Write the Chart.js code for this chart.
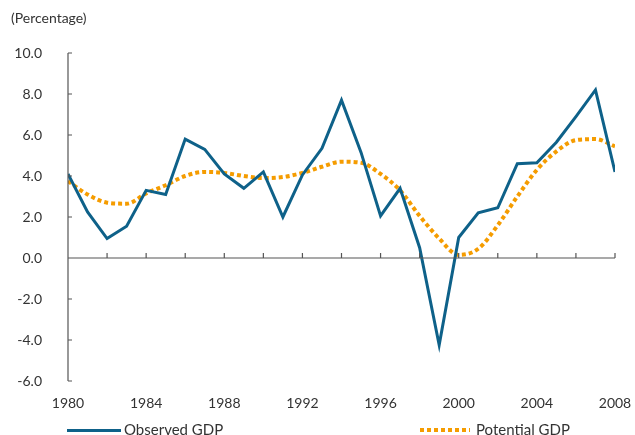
<!DOCTYPE html>
<html>
<head>
<meta charset="utf-8">
<script src="https://cdn.jsdelivr.net/npm/chart.js@4.4.1/dist/chart.umd.min.js"></script>
<style>
  html, body { margin:0; padding:0; background:#fff; }
  #wrap { position:relative; width:635px; height:435px; }
  canvas { position:absolute; left:0; top:0; }
  .txt { position:absolute; font-family:"Lato","Open Sans",sans-serif; color:#333; white-space:nowrap; }
  .leg { position:absolute; }
</style>
</head>
<body>
<div id="wrap">
  <canvas id="c" width="635" height="435"></canvas>
  <div class="txt" style="left:11px;top:9px;font-size:14px;">(Percentage)</div>
  <div class="leg" style="left:67px;top:429px;width:54px;height:3px;background:#0e6189;"></div>
  <div class="txt" style="left:124px;top:420px;font-size:15px;">Observed GDP</div>
  <div class="leg" style="left:420px;top:428px;width:50px;height:4px;background:repeating-linear-gradient(90deg,#f59c00 0 4px,transparent 4px 7px);"></div>
  <div class="txt" style="left:476px;top:420px;font-size:15px;">Potential GDP</div>
</div>
<script>
const years = [1980,1981,1982,1983,1984,1985,1986,1987,1988,1989,1990,1991,1992,1993,1994,1995,1996,1997,1998,1999,2000,2001,2002,2003,2004,2005,2006,2007,2008];
const observedGDP = [4.1,2.25,0.95,1.55,3.3,3.1,5.8,5.3,4.1,3.4,4.2,2.0,4.05,5.35,7.7,5.15,2.05,3.4,0.5,-4.25,1.0,2.2,2.45,4.6,4.65,5.65,6.9,8.2,4.2];
const potentialGDP = [3.75,3.1,2.7,2.65,3.15,3.55,4.0,4.2,4.15,4.0,3.9,3.95,4.15,4.45,4.7,4.65,4.1,3.3,2.05,0.95,0.15,0.45,1.6,3.0,4.3,5.2,5.75,5.8,5.45];
const yTicks = [-6,-4,-2,0,2,4,6,8,10];
const xLabelYears = [1980,1984,1988,1992,1996,2000,2004,2008];

const axesPlugin = {
  id: 'axesPlugin',
  afterDatasetsDraw(chart) {
    const ctx = chart.ctx, xs = chart.scales.x, ys = chart.scales.y;
    const x0 = xs.getPixelForValue(years[0]);
    const x1 = xs.getPixelForValue(years[years.length-1]);
    const yz = ys.getPixelForValue(0);
    ctx.save();
    ctx.strokeStyle = '#555';
    ctx.lineWidth = 1.2;
    ctx.beginPath();
    ctx.moveTo(x0, ys.getPixelForValue(10));
    ctx.lineTo(x0, ys.getPixelForValue(-6));
    ctx.moveTo(x0, yz);
    ctx.lineTo(x1, yz);
    yTicks.forEach(v => { const p = ys.getPixelForValue(v); ctx.moveTo(x0, p); ctx.lineTo(x0 + 4, p); });
    for (let yr = years[0]; yr <= years[years.length-1]; yr += 2) {
      const p = xs.getPixelForValue(yr); ctx.moveTo(p, yz); ctx.lineTo(p, yz - 5);
    }
    ctx.stroke();
    ctx.restore();
  }
};

new Chart(document.getElementById('c'), {
  type: 'line',
  data: {
    datasets: [
      { label: 'Potential GDP', data: years.map((y,i)=>({x:y,y:potentialGDP[i]})), borderColor:'#f59c00', borderWidth:4, borderDash:[4,3], pointRadius:0, cubicInterpolationMode:'monotone', fill:false, order:2 },
      { label: 'Observed GDP', data: years.map((y,i)=>({x:y,y:observedGDP[i]})), borderColor:'#0e6189', borderWidth:3, pointRadius:0, tension:0, fill:false, order:1 }
    ]
  },
  options: {
    responsive:false, animation:false, devicePixelRatio:1,
    layout: { padding: { top:53, right:20, left:0, bottom:0 } },
    plugins: { legend:{display:false}, tooltip:{enabled:false} },
    scales: {
      x: {
        type:'linear', min:1980, max:2008,
        afterFit(s){ s.height = 54; s.paddingLeft = 0; s.paddingRight = 0; },
        grid:{ display:false, drawTicks:false }, border:{ display:false },
        ticks:{ stepSize:4, maxRotation:0, autoSkip:false, padding:14, color:'#333', font:{ family:'Lato', size:14 },
          callback:(v)=> xLabelYears.includes(v) ? String(v) : '' }
      },
      y: {
        type:'linear', min:-6, max:10,
        afterFit(s){ s.width = 68; s.paddingTop = 0; s.paddingBottom = 0; },
        grid:{ display:false, drawTicks:false }, border:{ display:false },
        ticks:{ stepSize:2, padding:26, color:'#333', font:{ family:'Lato', size:14 }, callback:(v)=> v.toFixed(1) }
      }
    }
  },
  plugins:[axesPlugin]
});
</script>
</body>
</html>
